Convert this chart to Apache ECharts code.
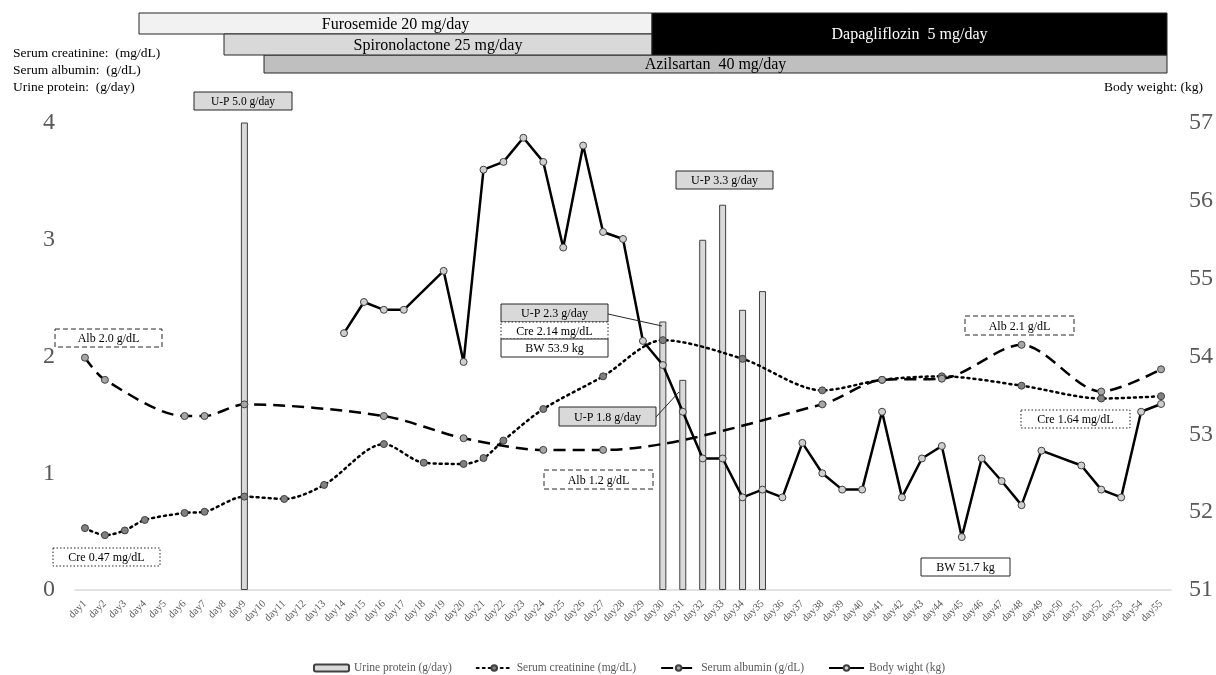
<!DOCTYPE html>
<html>
<head>
<meta charset="utf-8">
<script src="https://cdn.jsdelivr.net/npm/echarts@6/dist/echarts.min.js"></script>
<style>html,body{margin:0;padding:0;background:#fff;}#c{width:1216px;height:675px;}</style>
</head>
<body>
<div id="c"></div>
<script>
const days = ['day1','day2','day3','day4','day5','day6','day7','day8','day9','day10',
  'day11','day12','day13','day14','day15','day16','day17','day18','day19','day20',
  'day21','day22','day23','day24','day25','day26','day27','day28','day29','day30',
  'day31','day32','day33','day34','day35','day36','day37','day38','day39','day40',
  'day41','day42','day43','day44','day45','day46','day47','day48','day49','day50',
  'day51','day52','day53','day54','day55'];

const urineProtein = [
  null,null,null,null,null,null,null,null,5.0,null,
  null,null,null,null,null,null,null,null,null,null,
  null,null,null,null,null,null,null,null,null,2.3,
  1.8,3.0,3.3,2.4,2.56,null,null,null,null,null,
  null,null,null,null,null,null,null,null,null,null,
  null,null,null,null,null];

const creatinine = [
  0.53,0.47,0.51,0.60,null,0.66,0.67,null,0.80,null,
  0.78,null,0.90,null,null,1.25,null,1.09,null,1.08,
  1.13,1.28,null,1.55,null,null,1.83,null,null,2.14,
  null,null,null,1.98,null,null,null,1.71,null,null,
  1.80,null,null,1.83,null,null,null,1.75,null,null,
  null,1.64,null,null,1.66];

const albumin = [
  1.99,1.80,null,null,null,1.49,1.49,null,1.59,null,
  null,null,null,null,null,1.49,null,null,null,1.30,
  null,null,null,1.20,null,null,1.20,null,null,null,
  null,null,null,null,null,null,null,1.59,null,null,
  1.80,null,null,1.81,null,null,null,2.10,null,null,
  null,1.70,null,null,1.89];

const bodyWeight = [
  null,null,null,null,null,null,null,null,null,null,
  null,null,null,54.30,54.70,54.60,54.60,null,55.10,53.93,
  56.40,56.50,56.81,56.50,55.40,56.71,55.60,55.51,54.20,53.89,
  53.29,52.69,52.69,52.19,52.29,52.19,52.89,52.50,52.29,52.29,
  53.29,52.19,52.69,52.85,51.68,52.69,52.40,52.09,52.79,null,
  52.60,52.29,52.19,53.29,53.39];

const seriesNames = ['Urine protein (g/day)','Serum creatinine (mg/dL)','Serum albumin (g/dL)','Body wight (kg)'];
const leftAxisTitles = ['Serum creatinine:  (mg/dL)','Serum albumin:  (g/dL)','Urine protein:  (g/day)'];
const rightAxisTitle = 'Body weight: (kg)';

const SERIF = '"Liberation Serif","Times New Roman",serif';

function box(x1, y1, x2, y2, fill, dash, text, textColor, fontSize) {
  const els = [{
    type: 'rect', z: 100,
    shape: { x: x1, y: y1, width: x2 - x1, height: y2 - y1 },
    style: { fill: fill, stroke: '#262626', lineWidth: 1, lineDash: dash || null }
  }];
  if (text) {
    els.push({
      type: 'text', z: 101, x: (x1 + x2) / 2, y: (y1 + y2) / 2 + 1,
      style: { text: text, fill: textColor || '#000', font: (fontSize || 12) + 'px ' + SERIF,
               align: 'center', verticalAlign: 'middle' }
    });
  }
  return els;
}
function label(x, y, text, size, align, color) {
  return { type: 'text', z: 101, x: x, y: y,
    style: { text: text, fill: color || '#000', font: size + 'px ' + SERIF, align: align || 'left', verticalAlign: 'middle' } };
}
function line(x1, y1, x2, y2) {
  return { type: 'line', z: 100, shape: { x1: x1, y1: y1, x2: x2, y2: y2 }, style: { stroke: '#262626', lineWidth: 1 } };
}

const DOT = [1.5, 2];
const DASH = [5, 3];
const graphics = [].concat(
  box(264, 55, 1167, 73, '#bfbfbf', null, 'Azilsartan  40 mg/day', '#000', 16),
  box(139, 13, 652, 34, '#f2f2f2', null, 'Furosemide 20 mg/day', '#000', 16),
  box(224, 34, 652, 55, '#d9d9d9', null, 'Spironolactone 25 mg/day', '#000', 16),
  box(652, 13, 1167, 55, '#000000', null, 'Dapagliflozin  5 mg/day', '#fff', 16),
  [label(13, 53, leftAxisTitles[0], 13.5), label(13, 70, leftAxisTitles[1], 13.5), label(13, 87, leftAxisTitles[2], 13.5),
   label(1203, 87, rightAxisTitle, 13.5, 'right')],
  box(194, 92, 292, 110, '#d9d9d9', null, 'U-P 5.0 g/day', '#000', 11.5),
  box(55, 329, 162, 347, '#fff', DASH, 'Alb 2.0 g/dL', '#000', 12),
  box(53, 548, 160, 566, '#fff', DOT, 'Cre 0.47 mg/dL', '#000', 12),
  box(676, 171, 773, 189, '#d9d9d9', null, 'U-P 3.3 g/day', '#000', 12),
  [line(608, 314, 662, 326), line(656, 417, 679, 392)],
  box(501, 304, 608, 322, '#d9d9d9', null, 'U-P 2.3 g/day', '#000', 12),
  box(501, 322, 608, 339, '#fff', DOT, 'Cre 2.14 mg/dL', '#000', 12),
  box(501, 339, 608, 357, '#fff', null, 'BW 53.9 kg', '#000', 12),
  box(559, 407, 656, 426, '#d9d9d9', null, 'U-P 1.8 g/day', '#000', 12),
  box(544, 470, 653, 489, '#fff', DASH, 'Alb 1.2 g/dL', '#000', 12),
  box(965, 316, 1074, 335, '#fff', DASH, 'Alb 2.1 g/dL', '#000', 12),
  box(1021, 410, 1130, 428, '#fff', DOT, 'Cre 1.64 mg/dL', '#000', 12),
  box(921, 558, 1010, 576, '#fff', null, 'BW 51.7 kg', '#000', 12)
);

const chart = echarts.init(document.getElementById('c'), null, { renderer: 'canvas' });
chart.setOption({
  animation: false,
  backgroundColor: '#fff',
  textStyle: { fontFamily: SERIF },
  grid: { left: 75, right: 44, top: 123, bottom: 85, containLabel: false },
  legend: {
    data: seriesNames,
    top: 657, left: 308,
    itemWidth: 35, itemHeight: 7, itemGap: 24,
    textStyle: { fontFamily: SERIF, fontSize: 11.5, color: '#595959' }
  },
  xAxis: {
    type: 'category', data: days, boundaryGap: true,
    axisLine: { show: true, lineStyle: { color: '#d9d9d9', width: 1.5 } },
    axisTick: { show: false },
    axisLabel: { interval: 0, rotate: 45, fontSize: 10.5, color: '#595959', fontFamily: SERIF, margin: 12 }
  },
  yAxis: [
    { type: 'value', min: 0, max: 4, interval: 1, splitLine: { show: false },
      axisLine: { show: false }, axisTick: { show: false },
      axisLabel: { fontSize: 24, color: '#595959', fontFamily: SERIF, margin: 20 } },
    { type: 'value', min: 51, max: 57, interval: 1, splitLine: { show: false },
      axisLine: { show: false }, axisTick: { show: false },
      axisLabel: { fontSize: 24, color: '#595959', fontFamily: SERIF, margin: 18 } }
  ],
  series: [
    { name: seriesNames[0], type: 'bar', data: urineProtein, barWidth: 7, yAxisIndex: 0,
      itemStyle: { color: '#d9d9d9', borderColor: '#404040', borderWidth: 1 }, z: 2 },
    { name: seriesNames[1], type: 'line', data: creatinine, yAxisIndex: 0, connectNulls: true, smooth: 0.3,
      symbol: 'circle', symbolSize: 7,
      lineStyle: { color: '#000', width: 2.5, type: [2, 4], cap: 'round' },
      itemStyle: { color: '#808080', borderColor: '#404040', borderWidth: 1 }, z: 3 },
    { name: seriesNames[2], type: 'line', data: albumin, yAxisIndex: 0, connectNulls: true, smooth: 0.3,
      symbol: 'circle', symbolSize: 7,
      lineStyle: { color: '#000', width: 2.5, type: [12, 7] },
      itemStyle: { color: '#a6a6a6', borderColor: '#404040', borderWidth: 1 }, z: 4 },
    { name: seriesNames[3], type: 'line', data: bodyWeight, yAxisIndex: 1, connectNulls: true,
      symbol: 'circle', symbolSize: 7,
      lineStyle: { color: '#000', width: 2.5 },
      itemStyle: { color: '#cfcfcf', borderColor: '#404040', borderWidth: 1 }, z: 5 }
  ],
  graphic: graphics
});
</script>
</body>
</html>
